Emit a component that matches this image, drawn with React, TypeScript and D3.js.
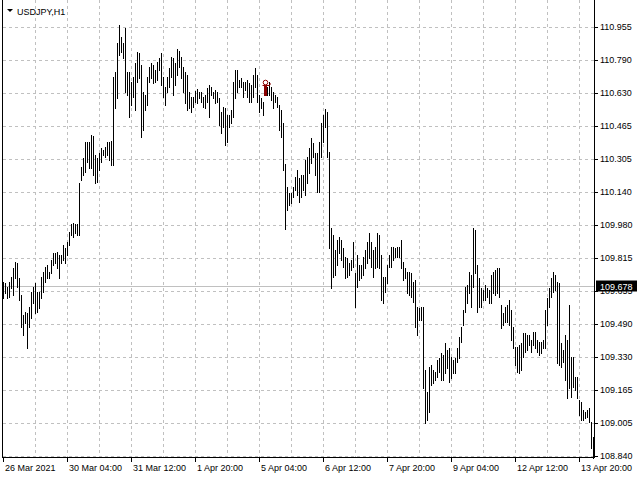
import React from "react";
import * as d3 from "d3";

const SYMBOL = "USDJPY,H1";
const CURRENT_PRICE = 109.678;
const PRICE_TICKS = [110.955, 110.79, 110.63, 110.465, 110.305, 110.14, 109.98, 109.815, 109.655, 109.49, 109.33, 109.165, 109.005, 108.84];
const TIME_LABELS = ["26 Mar 2021", "30 Mar 04:00", "31 Mar 12:00", "1 Apr 20:00", "5 Apr 04:00", "6 Apr 12:00", "7 Apr 20:00", "9 Apr 04:00", "12 Apr 12:00", "13 Apr 20:00"];
const MARKER_BAR = 131;
const MARKER_PRICE = 110.694;

const HIGH = [
  109.698, 109.693, 109.673, 109.698, 109.722, 109.767, 109.796, 109.791, 109.718, 109.633,
  109.535, 109.550, 109.545, 109.574, 109.648, 109.673, 109.693, 109.648, 109.648, 109.722,
  109.747, 109.771, 109.781, 109.747, 109.806, 109.841, 109.841, 109.846, 109.831, 109.831,
  109.880, 109.866, 109.895, 109.944, 109.983, 109.988, 109.983, 109.983, 110.186, 110.264,
  110.310, 110.388, 110.388, 110.388, 110.422, 110.417, 110.324, 110.310, 110.334, 110.359,
  110.349, 110.363, 110.388, 110.388, 110.393, 110.708, 110.733, 110.876, 110.964, 110.905,
  110.876, 110.950, 110.733, 110.733, 110.684, 110.708, 110.777, 110.832, 110.827, 110.767,
  110.634, 110.619, 110.708, 110.758, 110.777, 110.767, 110.743, 110.782, 110.802, 110.827,
  110.708, 110.659, 110.708, 110.753, 110.807, 110.802, 110.777, 110.847, 110.837, 110.807,
  110.758, 110.733, 110.718, 110.634, 110.609, 110.609, 110.639, 110.649, 110.634, 110.634,
  110.609, 110.619, 110.654, 110.669, 110.659, 110.634, 110.644, 110.634, 110.605, 110.536,
  110.560, 110.556, 110.521, 110.521, 110.546, 110.684, 110.743, 110.743, 110.694, 110.704,
  110.684, 110.684, 110.694, 110.679, 110.669, 110.718, 110.753, 110.718, 110.619, 110.605,
  110.585, 110.669, 110.659, 110.684, 110.659, 110.634, 110.619, 110.609, 110.570, 110.546,
  110.481, 110.279, 110.166, 110.136, 110.136, 110.166, 110.215, 110.250, 110.210, 110.225,
  110.225, 110.299, 110.314, 110.359, 110.408, 110.383, 110.334, 110.334, 110.388, 110.481,
  110.521, 110.551, 110.536, 110.339, 109.964, 109.929, 109.856, 109.905, 109.919, 109.905,
  109.866, 109.821, 109.816, 109.791, 109.806, 109.895, 109.742, 109.831, 109.781, 109.781,
  109.821, 109.856, 109.895, 109.939, 109.895, 109.856, 109.870, 109.939, 109.929, 109.831,
  109.722, 109.722, 109.781, 109.831, 109.870, 109.870, 109.866, 109.870, 109.870, 109.905,
  109.796, 109.767, 109.747, 109.747, 109.742, 109.698, 109.708, 109.574, 109.570, 109.574,
  109.574, 109.264, 109.155, 109.279, 109.288, 109.264, 109.254, 109.313, 109.323, 109.348,
  109.338, 109.397, 109.363, 109.373, 109.328, 109.313, 109.323, 109.373, 109.427, 109.475,
  109.560, 109.673, 109.683, 109.747, 109.733, 109.964, 109.954, 109.781, 109.718, 109.669,
  109.658, 109.683, 109.669, 109.658, 109.733, 109.747, 109.757, 109.767, 109.767, 109.584,
  109.545, 109.574, 109.584, 109.609, 109.560, 109.475, 109.378, 109.378, 109.388, 109.397,
  109.446, 109.446, 109.436, 109.436, 109.412, 109.451, 109.451, 109.412, 109.402, 109.402,
  109.412, 109.560, 109.619, 109.669, 109.718, 109.747, 109.733, 109.698, 109.693, 109.397,
  109.363, 109.436, 109.412, 109.584, 109.328, 109.328, 109.230, 109.230, 109.116, 109.106,
  109.067, 109.057, 109.067, 109.077, 109.007, 108.934
];

const LOW = [
  109.619, 109.643, 109.619, 109.623, 109.669, 109.633, 109.718, 109.673, 109.609, 109.475,
  109.436, 109.495, 109.373, 109.475, 109.521, 109.594, 109.545, 109.550, 109.570, 109.619,
  109.648, 109.698, 109.718, 109.718, 109.742, 109.781, 109.791, 109.767, 109.718, 109.791,
  109.806, 109.791, 109.831, 109.880, 109.929, 109.919, 109.939, 109.929, 109.929, 110.201,
  110.225, 110.240, 110.289, 110.260, 110.260, 110.225, 110.186, 110.191, 110.250, 110.289,
  110.324, 110.314, 110.324, 110.299, 110.274, 110.274, 110.556, 110.605, 110.817, 110.832,
  110.802, 110.634, 110.619, 110.511, 110.570, 110.609, 110.546, 110.684, 110.704, 110.412,
  110.447, 110.546, 110.570, 110.684, 110.704, 110.679, 110.684, 110.694, 110.743, 110.669,
  110.609, 110.570, 110.634, 110.659, 110.708, 110.619, 110.669, 110.718, 110.758, 110.704,
  110.634, 110.580, 110.546, 110.556, 110.536, 110.560, 110.585, 110.580, 110.605, 110.585,
  110.560, 110.556, 110.585, 110.511, 110.619, 110.605, 110.580, 110.585, 110.471, 110.432,
  110.461, 110.373, 110.388, 110.461, 110.481, 110.511, 110.605, 110.634, 110.659, 110.659,
  110.609, 110.644, 110.609, 110.585, 110.585, 110.609, 110.659, 110.585, 110.536, 110.556,
  110.521, 110.619, 110.619, 110.619, 110.595, 110.556, 110.585, 110.560, 110.447, 110.412,
  110.250, 109.959, 110.053, 110.078, 110.087, 110.117, 110.151, 110.127, 110.092, 110.117,
  110.151, 110.127, 110.186, 110.235, 110.284, 110.314, 110.225, 110.141, 110.141, 110.314,
  110.388, 110.461, 110.314, 109.866, 109.669, 109.722, 109.733, 109.781, 109.841, 109.806,
  109.771, 109.718, 109.722, 109.733, 109.757, 109.771, 109.574, 109.673, 109.708, 109.718,
  109.733, 109.767, 109.791, 109.816, 109.771, 109.722, 109.767, 109.771, 109.767, 109.609,
  109.594, 109.648, 109.693, 109.771, 109.771, 109.806, 109.821, 109.821, 109.821, 109.767,
  109.708, 109.718, 109.643, 109.633, 109.623, 109.599, 109.475, 109.436, 109.510, 109.510,
  109.176, 109.002, 109.017, 109.057, 109.190, 109.200, 109.215, 109.230, 109.254, 109.215,
  109.215, 109.249, 109.274, 109.205, 109.225, 109.249, 109.249, 109.303, 109.323, 109.402,
  109.486, 109.550, 109.594, 109.643, 109.574, 109.673, 109.742, 109.550, 109.574, 109.574,
  109.609, 109.609, 109.623, 109.594, 109.594, 109.643, 109.633, 109.643, 109.623, 109.471,
  109.486, 109.500, 109.500, 109.486, 109.412, 109.373, 109.288, 109.254, 109.249, 109.264,
  109.328, 109.353, 109.363, 109.388, 109.353, 109.388, 109.373, 109.353, 109.338, 109.348,
  109.373, 109.373, 109.486, 109.574, 109.623, 109.648, 109.658, 109.298, 109.288, 109.279,
  109.303, 109.215, 109.126, 109.176, 109.131, 109.180, 109.165, 109.126, 109.042, 109.017,
  109.017, 109.027, 109.032, 109.007, 108.880, 108.830
];

const FONT = "'Liberation Sans', Arial, sans-serif";
const GRID = "#c0c0c0";

function Label({ x, y, children, fill = "#000", anchorMiddle = false }: { x: number; y: number; children: React.ReactNode; fill?: string; anchorMiddle?: boolean }) {
  return (
    <text
      transform={`translate(${x},${y}) scale(1,1.1)`}
      dy={anchorMiddle ? "0.35em" : undefined}
      fontFamily={FONT}
      fontSize={9}
      fill={fill}
    >
      {children}
    </text>
  );
}

export default function App() {
  const n = HIGH.length;
  const x = d3.scaleLinear().domain([0, n - 1]).range([3, 593]);
  const y = d3.scaleLinear().domain([108.84, 110.955]).range([456, 27]);
  const px = (i: number) => Math.round(x(i)) + 0.5;
  const py = (p: number) => Math.round(y(p)) + 0.5;

  const vGrid = d3.range(16, n, 16);
  const curY = py(CURRENT_PRICE);
  const mx = Math.round(x(MARKER_BAR));
  const my = Math.round(y(MARKER_PRICE));

  return (
    <svg width={640} height={480} style={{ position: "absolute", left: 0, top: 0, display: "block", background: "#fff" }}>
      <rect x={0} y={0} width={640} height={480} fill="#fff" />
      {vGrid.map((i) => (
        <line key={"vg" + i} x1={px(i)} x2={px(i)} y1={0} y2={457} stroke={GRID} strokeDasharray="3,3" />
      ))}
      {PRICE_TICKS.map((p) => (
        <line key={"hg" + p} x1={3} x2={594} y1={py(p)} y2={py(p)} stroke={GRID} strokeDasharray="3,3" />
      ))}
      <line x1={3} x2={594} y1={curY} y2={curY} stroke="#c0c0c0" />
      {HIGH.map((h, i) => (
        <line key={"b" + i} x1={px(i)} x2={px(i)} y1={Math.round(y(h))} y2={Math.round(y(LOW[i])) + 1} stroke="#000" />
      ))}
      <g stroke="#8b0000" fill="none">
        <circle cx={mx + 0.5} cy={my + 2.5} r={2.3} strokeWidth={1} />
        <path d={`M${mx - 2.5},${my + 5.5} L${mx + 4.5},${my + 5.5} L${mx + 5.5},${my + 3.5}`} strokeWidth={1} />
        <rect x={mx - 1} y={my + 6} width={3} height={10} fill="#8b0000" stroke="none" />
      </g>
      <line x1={2.5} x2={2.5} y1={0} y2={458} stroke="#000" />
      <line x1={2} x2={595} y1={457.5} y2={457.5} stroke="#000" />
      <line x1={594.5} x2={594.5} y1={0} y2={458} stroke="#000" />
      {PRICE_TICKS.map((p) => (
        <g key={"pt" + p}>
          <line x1={595} x2={598} y1={py(p)} y2={py(p)} stroke="#000" />
          <Label x={600} y={Math.round(y(p))} anchorMiddle>
            {p.toFixed(3)}
          </Label>
        </g>
      ))}
      <rect x={596} y={curY - 6} width={41} height={11} fill="#000" />
      <Label x={600} y={curY} fill="#fff" anchorMiddle>
        {CURRENT_PRICE.toFixed(3)}
      </Label>
      {TIME_LABELS.map((t, j) => {
        const xi = px(j * 32);
        return (
          <g key={"tl" + j}>
            <line x1={xi} x2={xi} y1={458} y2={462} stroke="#000" />
            <Label x={xi + 1.5} y={471}>
              {t}
            </Label>
          </g>
        );
      })}
      <path d="M7,9 L13,9 L10,12 Z" fill="#000" />
      <Label x={17} y={15}>
        {SYMBOL}
      </Label>
    </svg>
  );
}
